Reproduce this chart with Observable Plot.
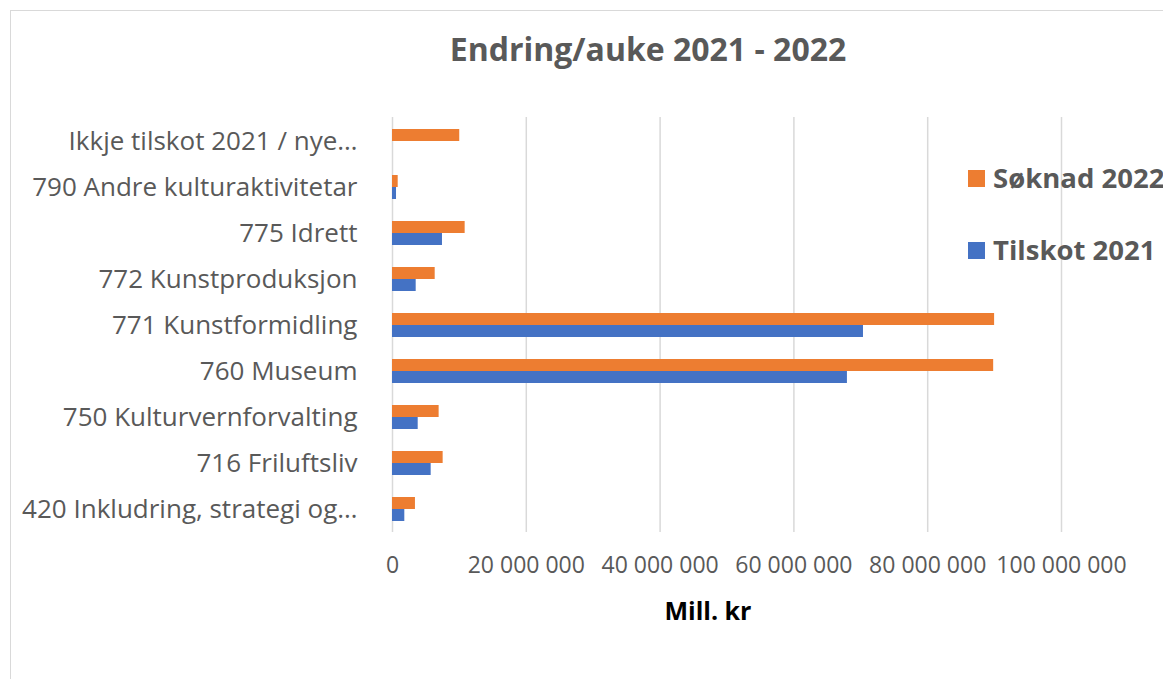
<!DOCTYPE html>
<html>
<head>
<meta charset="utf-8">
<script src="https://cdn.jsdelivr.net/npm/d3@7"></script>
<script src="https://cdn.jsdelivr.net/npm/@observablehq/plot@0.6"></script>
<style>
  html, body { margin: 0; padding: 0; background: #fff; overflow: hidden; }
  #wrap { position: relative; width: 1163px; height: 679px; font-family: "Open Sans", Lato, sans-serif; }
  #frame { position: absolute; left: 10px; top: 10px; width: 1170px; height: 700px; border: 1.5px solid #d9d9d9; box-sizing: border-box; }
  #title { position: absolute; left: 348px; width: 600px; top: 33px; line-height: 1; text-align: center; font-size: 32px; font-weight: 700; color: #595959; }
  #xlabel { position: absolute; left: 608px; width: 200px; top: 598px; line-height: 1; text-align: center; font-size: 25px; font-weight: 700; color: #000; }
  .leg { position: absolute; left: 968px; height: 30px; display: flex; align-items: center; font-size: 27.5px; line-height: 1; font-weight: 700; color: #595959; white-space: nowrap; }
  .leg span.sw { display: inline-block; width: 17px; height: 17px; margin-right: 8px; }
  #chart { position: absolute; left: 0; top: 0; }
</style>
</head>
<body>
<div id="wrap">
  <div id="frame"></div>
  <div id="chart"></div>
  <div id="title">Endring/auke 2021 - 2022</div>
  <div id="xlabel">Mill. kr</div>
  <div class="leg" style="top:163px"><span class="sw" style="background:#ED7D31"></span>Søknad 2022</div>
  <div class="leg" style="top:235px"><span class="sw" style="background:#4472C4"></span>Tilskot 2021</div>
</div>
<script>
const categories = [
  "Ikkje tilskot 2021 / nye…",
  "790 Andre kulturaktivitetar",
  "775 Idrett",
  "772 Kunstproduksjon",
  "771 Kunstformidling",
  "760 Museum",
  "750 Kulturvernforvalting",
  "716 Friluftsliv",
  "420 Inkludring, strategi og…"
];
const soknad2022 = [10050000, 850000, 10860000, 6380000, 90000000, 89860000, 6970000, 7570000, 3430000];
const tilskot2021 = [null, 600000, 7470000, 3540000, 70400000, 68000000, 3840000, 5780000, 1840000];
const xTicks = [0, 20000000, 40000000, 60000000, 80000000, 100000000];
const seriesNames = ["Søknad 2022", "Tilskot 2021"];
const seriesColors = ["#ED7D31", "#4472C4"];

const rowsS = categories.map((c, i) => ({category: c, value: soknad2022[i], series: seriesNames[0]}));
const rowsT = categories.map((c, i) => ({category: c, value: tilskot2021[i], series: seriesNames[1]})).filter(d => d.value != null);

const fmt = d3.formatLocale({decimal: ",", thousands: " ", grouping: [3], currency: ["", " kr"]}).format(",d");

const chart = Plot.plot({
  width: 1163,
  height: 679,
  marginLeft: 392,
  marginRight: 102,
  marginTop: 117,
  marginBottom: 147,
  style: {fontFamily: "'Open Sans', Lato, sans-serif", background: "transparent"},
  x: {domain: [0, 100000000], axis: null},
  y: {domain: categories, padding: 0, axis: null},
  color: {domain: seriesNames, range: seriesColors},
  marks: [
    Plot.ruleX(xTicks, {stroke: "#d9d9d9", strokeWidth: 1.5}),
    Plot.barX(rowsS, {x: "value", y: "category", fill: "series", insetTop: 11, insetBottom: 23}),
    Plot.barX(rowsT, {x: "value", y: "category", fill: "series", insetTop: 23, insetBottom: 11}),
    Plot.axisX({ticks: xTicks, tickFormat: fmt, tickSize: 0, tickPadding: 24, fontSize: 23, fill: "#595959", label: null}),
    Plot.axisY({tickSize: 0, tickPadding: 35, fontSize: 26, fill: "#595959", label: null})
  ]
});
document.getElementById("chart").appendChild(chart);
</script>
</body>
</html>
